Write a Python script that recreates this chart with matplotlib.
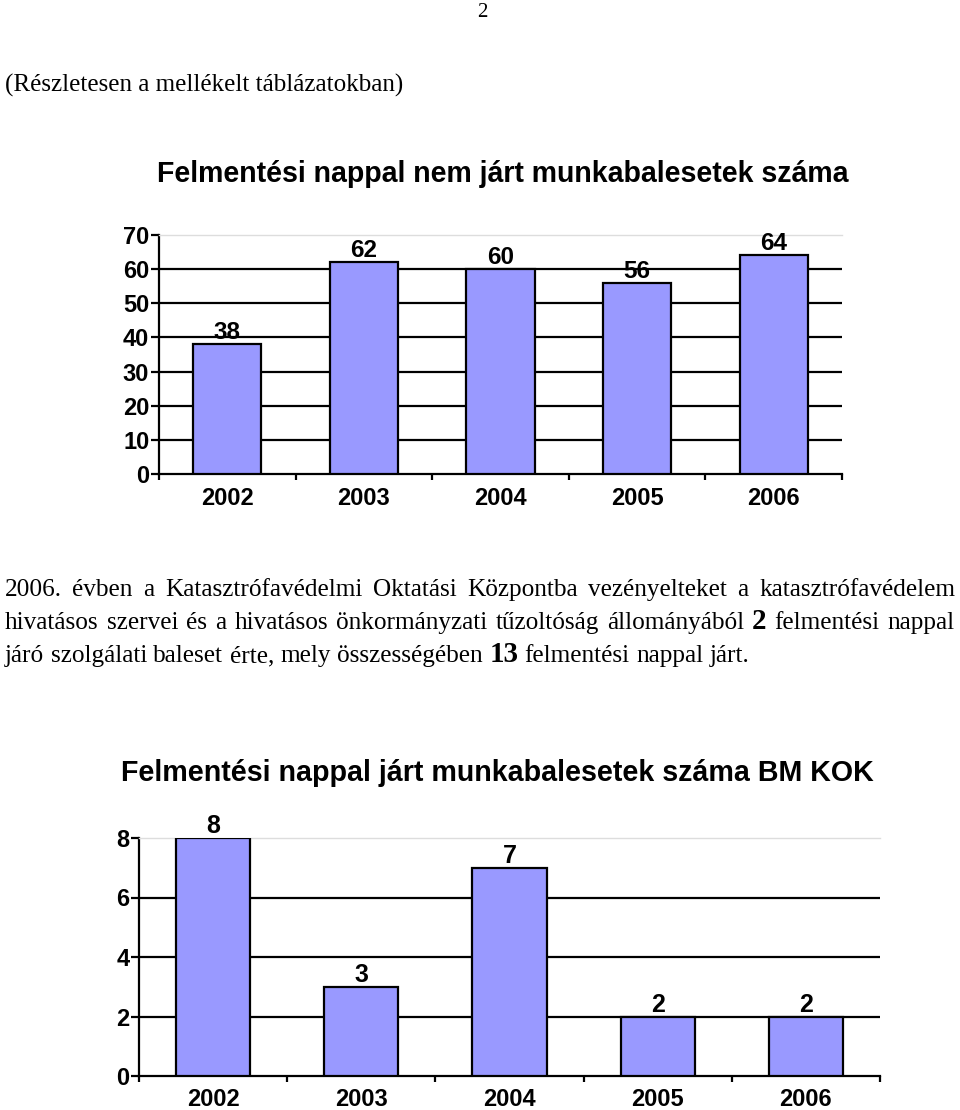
import matplotlib
matplotlib.use("Agg")
import matplotlib.pyplot as plt
from matplotlib import font_manager

W, H = 960, 1110

years = ["2002", "2003", "2004", "2005", "2006"]
values_top = [38, 62, 60, 56, 64]
values_bottom = [8, 3, 7, 2, 2]
yticks_top = [0, 10, 20, 30, 40, 50, 60, 70]
yticks_bottom = [0, 2, 4, 6, 8]

title_top = "Felmentési nappal nem járt munkabalesetek száma"
title_bottom = "Felmentési nappal járt munkabalesetek száma BM KOK"
page_number = "2"
note = "(Részletesen a mellékelt táblázatokban)"
para_line1 = [("2006. évben a Katasztrófavédelmi Oktatási Központba vezényelteket a katasztrófavédelem", False)]
para_line2 = [("hivatásos szervei és a hivatásos önkormányzati tűzoltóság állományából", False),
              ("2", True), ("felmentési nappal", False)]
para_line3 = [("járó szolgálati baleset érte, mely összességében", False),
              ("13", True), ("felmentési nappal járt.", False)]

BAR = "#9999FF"
SANS = "Liberation Sans"
SERIF = "Liberation Serif"
installed = {f.name for f in font_manager.fontManager.ttflist}
NARROW = "Liberation Sans Narrow" if "Liberation Sans Narrow" in installed else SANS

fig = plt.figure(figsize=(9.6, 11.1), dpi=100)
fig.patch.set_facecolor("white")
renderer = fig.canvas.get_renderer()


def fx(px):
    return px / W


def fy(py):
    return 1 - py / H


def fit_text(x_px, y_px, s, width_px, ha, **kw):
    t = fig.text(fx(x_px), fy(y_px), s, ha=ha, va="baseline", **kw)
    w = t.get_window_extent(renderer).width
    t.set_fontsize(t.get_fontsize() * width_px / w)
    return t


def bar_chart(rect, values, yticks, tick_size, xlab_size, lab_size, lab_pad):
    ax = fig.add_axes(rect)
    x = list(range(len(values)))
    ax.bar(x, values, width=0.5, color=BAR, edgecolor="black", linewidth=1.6, zorder=3)
    ax.set_xlim(-0.5, len(values) - 0.5)
    ax.set_ylim(yticks[0], yticks[-1])
    for v in yticks[1:-1]:
        ax.axhline(v, color="black", linewidth=1.6, zorder=1)
    ax.spines["right"].set_visible(False)
    ax.spines["top"].set_color("#DDDDDD")
    ax.spines["top"].set_linewidth(1.0)
    ax.spines["left"].set_linewidth(1.6)
    ax.spines["bottom"].set_linewidth(1.6)
    ax.set_yticks(yticks)
    ax.set_yticklabels([str(v) for v in yticks], fontsize=tick_size, fontweight="bold", family=SANS)
    ax.tick_params(axis="y", direction="out", length=6, width=1.6, pad=1)
    ax.set_xticks([i - 0.5 for i in range(len(values) + 1)])
    ax.set_xticklabels([])
    ax.tick_params(axis="x", which="major", direction="out", length=4, width=1.6)
    ax.set_xticks(x, minor=True)
    ax.set_xticklabels(years, minor=True, fontsize=xlab_size, fontweight="bold", family=SANS)
    ax.tick_params(axis="x", which="minor", length=0, pad=9)
    for xi, v in zip(x, values):
        ax.annotate(str(v), (xi, v), xytext=(0, lab_pad), textcoords="offset points",
                    ha="center", va="bottom", fontsize=lab_size, fontweight="bold", family=SANS)
    return ax


# page header
fig.text(fx(482), fy(17), page_number, ha="center", va="baseline", fontsize=15, family=SERIF)
fit_text(5, 92, note, 400, "left", family=SERIF, fontsize=15)

# chart 1
fit_text(503, 182, title_top, 693, "center", family=SANS, fontweight="bold", fontsize=18)
bar_chart([fx(159), fy(474), fx(842) - fx(159), fy(235) - fy(474)], values_top, yticks_top,
          17, 17, 17.5, 0)

# paragraph (justified)
PARA_SIZE = 18.2


def place_line(segments, y_px, x0, x1, justify):
    words = []
    for text, bold in segments:
        for w in text.split(" "):
            words.append((w, bold))
    objs, widths = [], []
    for w, b in words:
        t = fig.text(fx(x0), fy(y_px), w, ha="left", va="baseline", family=SERIF,
                     fontsize=PARA_SIZE * (1.15 if b else 1.0), fontweight="bold" if b else "normal")
        objs.append(t)
        widths.append(t.get_window_extent(renderer).width)
    a = fig.text(0, 0, "a a", fontsize=PARA_SIZE, family=SERIF)
    b_ = fig.text(0, 0, "aa", fontsize=PARA_SIZE, family=SERIF)
    space = a.get_window_extent(renderer).width - b_.get_window_extent(renderer).width
    a.remove()
    b_.remove()
    if justify:
        gap = (x1 - x0 - sum(widths)) / (len(words) - 1)
    else:
        gap = space
    xpos = x0
    for t, w in zip(objs, widths):
        t.set_x(fx(xpos))
        xpos += w + gap


place_line(para_line1, 596, 5, 955, True)
place_line(para_line2, 629, 5, 955, True)
place_line(para_line3, 662, 5, 955, False)

# chart 2
fit_text(497, 781, title_bottom, 750, "center", family=NARROW, fontweight="bold", fontsize=22)
bar_chart([fx(139), fy(1076), fx(880) - fx(139), fy(838) - fy(1076)], values_bottom, yticks_bottom,
          17, 17, 18, 0)

fig.savefig("out.png", dpi=100, facecolor="white")
